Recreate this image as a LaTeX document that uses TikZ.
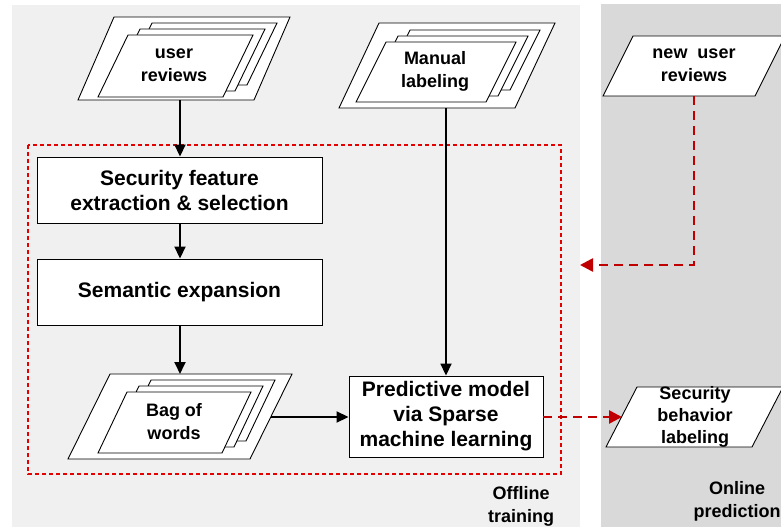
\documentclass[tikz,border=0pt]{standalone}
\usepackage{fontspec}
\setmainfont{Liberation Sans}
\usetikzlibrary{arrows.meta}
\usetikzlibrary{calc}

\definecolor{offlinebg}{HTML}{F0F0F0}
\definecolor{onlinebg}{HTML}{D9D9D9}
\definecolor{darkred}{HTML}{C00000}

\begin{document}
\begin{tikzpicture}[x=1pt,y=-1pt,
		procbox/.style={draw,fill=white,line width=0.9pt,align=center,
			font=\fontsize{21}{25}\selectfont\bfseries},
		doctext/.style={align=center,inner sep=0pt,
			font=\fontsize{18}{23}\selectfont\bfseries},
		sheet/.style={draw,fill=white,line width=0.9pt,line join=miter},
		flow/.style={draw,line width=1.8pt,-{Triangle[length=12pt,width=11pt]}},
		redflow/.style={draw=darkred,line width=2.6pt,dash pattern=on 9pt off 6pt,
			-{Triangle[length=13pt,width=13pt]}},
		trainframe/.style={draw=red!90!black,line width=1.1pt,dash pattern=on 4pt off 3pt}]
	\useasboundingbox (0,0) rectangle (781,529);
	% offline / online areas
	\fill[offlinebg] (12,5) rectangle (580,527);
	\fill[onlinebg] (601,4) rectangle (781,527);
	\draw[trainframe] (28,145) rectangle (561,474);

	% stacked documents: outer frame, then three sheets
	\draw[sheet] (78,100) -- ++(176,0) -- ++(36,-83) -- ++(-176,0) -- cycle;
	\foreach \k in {2,1,0} {
		\draw[sheet] ({98+12*\k},{97-6*\k}) -- ++(125,0) -- ++(30,-62) -- ++(-125,0) -- cycle;
	}
	\node[doctext] (reviews) at (174,65) {user\\reviews};
	\coordinate (reviews-out) at (180,100);

	\draw[sheet] (339,108) -- ++(176,0) -- ++(40,-85) -- ++(-176,0) -- cycle;
	\foreach \k in {2,1,0} {
		\draw[sheet] ({356+12*\k},{102-6*\k}) -- ++(130,0) -- ++(30,-60) -- ++(-130,0) -- cycle;
	}
	\node[doctext] (manual) at (435,71) {Manual\\labeling};
	\coordinate (manual-out) at (446,108);

	\draw[sheet] (68,459) -- ++(182,0) -- ++(42,-85) -- ++(-182,0) -- cycle;
	\foreach \k in {2,1,0} {
		\draw[sheet] ({98+12*\k},{453-6*\k}) -- ++(124,0) -- ++(29,-61) -- ++(-124,0) -- cycle;
	}
	\node[doctext] (bag) at (174,422) {Bag of\\words};
	\coordinate (bag-in) at (180,374);
	\coordinate (bag-out) at (271,417);

	% online inputs and outputs
	\draw[sheet] (603,96) -- ++(152,0) -- ++(30,-60) -- ++(-152,0) -- cycle;
	\node[doctext] (newreviews) at (694,65) {new\ \ user\\reviews};
	\coordinate (new-out) at (694,96);

	\draw[sheet] (606,447) -- ++(146,0) -- ++(31,-60) -- ++(-146,0) -- cycle;
	\node[doctext,font=\fontsize{18}{22}\selectfont\bfseries] (behavior) at (695,417) {Security\\behavior\\labeling};
	\coordinate (behavior-in) at (622,417);

	% processing steps
	\node[procbox,minimum width=285pt,minimum height=66pt] (sec) at (179.5,190) {Security feature\\extraction \& selection};
	\node[procbox,minimum width=285pt,minimum height=66pt] (sem) at (179.5,292) {Semantic expansion};
	\node[procbox,minimum width=194pt,minimum height=81pt] (pred) at (446,416.5) {Predictive model\\via Sparse\\machine learning};

	\node[doctext] (offline) at (521,506) {Offline\\training};
	\node[doctext] (online) at (737,501.5) {Online\\prediction};

	% connectors
	\draw[flow] (reviews-out) -- (reviews-out |- sec.north);
	\draw[flow] (reviews-out |- sec.south) -- (reviews-out |- sem.north);
	\draw[flow] (sem.south -| bag-in) -- (bag-in);
	\draw[flow] (bag-out) -- (bag-out -| pred.west);
	\draw[flow] (manual-out) -- (pred.north);
	\coordinate (frame-hit) at (580,265);
	\draw[redflow] (new-out) |- (frame-hit);
	\draw[redflow] (pred.east |- behavior-in) -- (behavior-in);
\end{tikzpicture}
\end{document}
